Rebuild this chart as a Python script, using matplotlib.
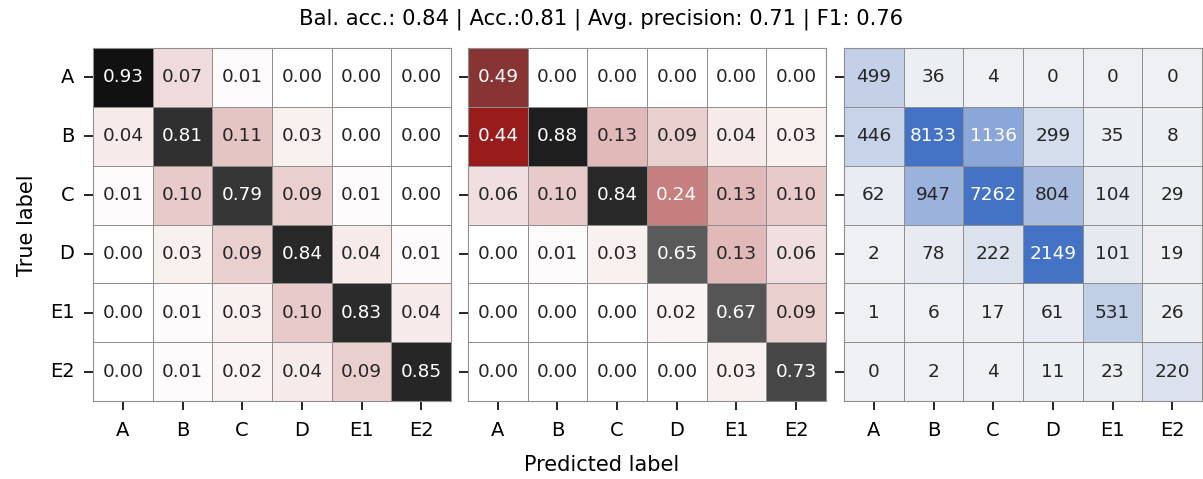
import numpy as np
import matplotlib
matplotlib.use("Agg")
import matplotlib.pyplot as plt
from matplotlib.colors import LinearSegmentedColormap
import seaborn as sns

labels = ["A", "B", "C", "D", "E1", "E2"]

# row-normalised (recall)
recall = np.array([
    [0.93, 0.07, 0.01, 0.00, 0.00, 0.00],
    [0.04, 0.81, 0.11, 0.03, 0.00, 0.00],
    [0.01, 0.10, 0.79, 0.09, 0.01, 0.00],
    [0.00, 0.03, 0.09, 0.84, 0.04, 0.01],
    [0.00, 0.01, 0.03, 0.10, 0.83, 0.04],
    [0.00, 0.01, 0.02, 0.04, 0.09, 0.85],
])

# column-normalised (precision)
precision = np.array([
    [0.49, 0.00, 0.00, 0.00, 0.00, 0.00],
    [0.44, 0.88, 0.13, 0.09, 0.04, 0.03],
    [0.06, 0.10, 0.84, 0.24, 0.13, 0.10],
    [0.00, 0.01, 0.03, 0.65, 0.13, 0.06],
    [0.00, 0.00, 0.00, 0.02, 0.67, 0.09],
    [0.00, 0.00, 0.00, 0.00, 0.03, 0.73],
])

counts = np.array([
    [499, 36, 4, 0, 0, 0],
    [446, 8133, 1136, 299, 35, 8],
    [62, 947, 7262, 804, 104, 29],
    [2, 78, 222, 2149, 101, 19],
    [1, 6, 17, 61, 531, 26],
    [0, 2, 4, 11, 23, 220],
])

title = "Bal. acc.: 0.84 | Acc.:0.81 | Avg. precision: 0.71 | F1: 0.76"

# white -> red -> grey -> black
cmap_norm = LinearSegmentedColormap.from_list(
    "wrk", [(0.0, "#ffffff"), (0.43, "#9b1818"), (0.6, "#676767"), (1.0, "#000000")])
cmap_cnt = LinearSegmentedColormap.from_list("gb", ["#eef0f3", "#4472c4"])

fig = plt.figure(figsize=(12.03, 4.79), dpi=100)
W, H = 1203.0, 479.0
bottom = 1 - 401 / H
height = 353 / H
width = 358 / W
lefts = [93 / W, 468 / W, 844 / W]

panels = [
    (recall, cmap_norm, ".2f", 0, 1),
    (precision, cmap_norm, ".2f", 0, 1),
    (counts, cmap_cnt, "d", 0, 1950),
]

for i, (mat, cmap, fmt, vmin, vmax) in enumerate(panels):
    ax = fig.add_axes([lefts[i], bottom, width, height])
    sns.heatmap(mat, ax=ax, cmap=cmap, vmin=vmin, vmax=vmax, annot=True, fmt=fmt,
                cbar=False, linewidths=0.55, linecolor="#8f8f8f",
                xticklabels=labels, yticklabels=labels,
                annot_kws={"fontsize": 13.3})
    for sp in ax.spines.values():
        sp.set_visible(True)
        sp.set_color("#8f8f8f")
        sp.set_linewidth(0.8)
    ax.tick_params(axis="both", length=6.5, width=1.2, labelsize=14, color="black")
    ax.tick_params(axis="x", pad=8)
    ax.tick_params(axis="y", pad=7)
    plt.setp(ax.get_yticklabels(), rotation=0)
    plt.setp(ax.get_xticklabels(), rotation=0)
    if i > 0:
        ax.tick_params(axis="y", labelleft=False)

fig.text(0.5, 1 - 19 / H, title, ha="center", va="center", fontsize=15.2)
fig.text(0.5, 1 - 465 / H, "Predicted label", ha="center", va="center", fontsize=15)
fig.text(27 / W, 1 - 225 / H, "True label", ha="center", va="center", rotation=90, fontsize=15)

fig.savefig("out.png", dpi=100)
